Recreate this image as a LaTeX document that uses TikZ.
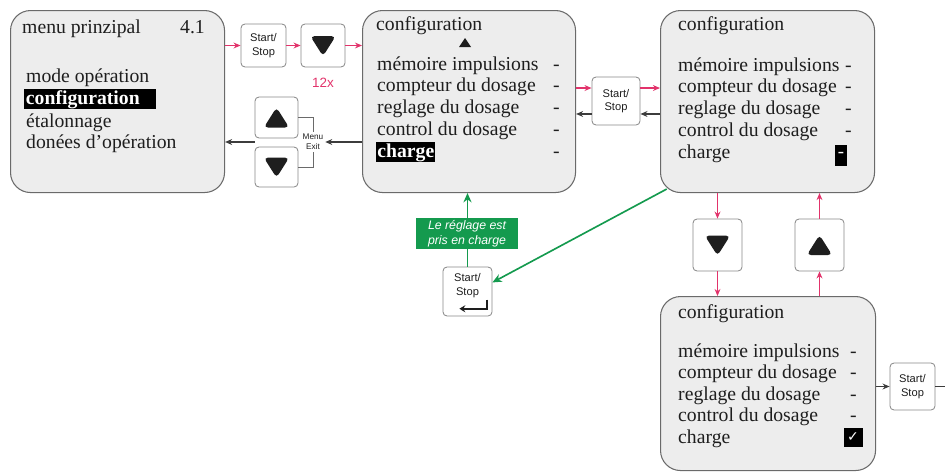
\documentclass[tikz,border=0pt]{standalone}
\usepackage{fontspec}
\setmainfont{Liberation Serif}
\setsansfont{Liberation Sans}
\newfontfamily\symbolfont{DejaVu Sans}
\usepackage{tikz}
\usetikzlibrary{arrows.meta, positioning}
\definecolor{ScreenGray}{HTML}{EDEDED}
\definecolor{FrameGray}{HTML}{6A6A6A}
\definecolor{KeyRed}{HTML}{E2336B}
\definecolor{OkGreen}{HTML}{149A4E}
\definecolor{BackDark}{HTML}{3C3C3C}
\definecolor{InkBlack}{HTML}{1E1E1E}

\tikzset{
  screen/.style={draw=FrameGray, fill=ScreenGray, line width=0.9pt, rounded corners=0.6cm, anchor=north west, inner sep=0pt},
  keytext/.style={inner sep=0pt, align=center, text=InkBlack, font=\sffamily\fontsize{9.5}{11.5}\selectfont},
  key/.style={keytext, draw=FrameGray!80, fill=white, line width=0.7pt, rounded corners=0.12cm},
  downkey/.style={key, path picture={\fill[InkBlack] ([xshift=-0.38cm,yshift=0.28cm]path picture bounding box.center) -- ++(0.76cm,0cm) -- ++(-0.38cm,-0.6cm) -- cycle;}},
  upkey/.style={key, path picture={\fill[InkBlack] ([xshift=-0.38cm,yshift=-0.3cm]path picture bounding box.center) -- ++(0.76cm,0cm) -- ++(-0.38cm,0.6cm) -- cycle;}},
  row/.style={anchor=base west, inner sep=0pt, text=InkBlack, font=\fontsize{16.8}{20}\selectfont},
  hilite/.style={row, fill=black, text=white, inner xsep=1.5pt, inner ysep=0.8pt, font=\bfseries\fontsize{16.8}{20}\selectfont},
  fwdline/.style={KeyRed, line width=1pt, -{Stealth[length=6pt, width=5pt]}},
  backline/.style={BackDark, line width=1pt, -{Stealth[length=6pt, width=5pt]}},
  okline/.style={OkGreen, line width=1.4pt, -{Stealth[length=8pt, width=7pt]}},
}

\begin{document}
\begin{tikzpicture}[x=0.03cm, y=-0.03cm]
  \useasboundingbox (0,0) rectangle (945,473);
  \coordinate (edge) at (945,0);

  % screens
  \node[screen, minimum width=6.42cm, minimum height=5.46cm] (box1) at (10,10) {};
  \node[screen, minimum width=6.39cm, minimum height=5.46cm] (box2) at (362,10) {};
  \node[screen, minimum width=6.42cm, minimum height=5.46cm] (box3) at (660,10) {};
  \node[screen, minimum width=6.45cm, minimum height=5.22cm] (box4) at (660,296) {};

  % keys
  \node[key, minimum width=1.35cm, minimum height=1.29cm] (start1) at (263.5,45.5) {Start/\\Stop};
  \node[downkey, minimum width=1.32cm, minimum height=1.29cm] (down1) at (323,45.5) {};
  \node[upkey, minimum width=1.29cm, minimum height=1.23cm] (menuup) at (276.5,117.5) {};
  \node[downkey, minimum width=1.29cm, minimum height=1.2cm] (menudown) at (276.5,167) {};
  \node[key, minimum width=1.44cm, minimum height=1.44cm] (start2) at (616,101) {Start/\\Stop};
  \node[downkey, minimum width=1.47cm, minimum height=1.56cm] (down3) at (717.5,245) {};
  \node[upkey, minimum width=1.47cm, minimum height=1.56cm] (up3) at (819.5,245) {};
  \node[key, minimum width=1.47cm, minimum height=1.47cm] (enter) at (467.5,291.5) {};
  \node[keytext, below=0.2cm of enter.north] {Start/\\Stop};
  \draw[InkBlack, line width=1.8pt, -{Stealth[length=5pt, width=6pt]}]
    ([xshift=-0.15cm,yshift=0.5cm]enter.south east) -- ++(0,9) -- ++(-28,0);
  \node[key, minimum width=1.35cm, minimum height=1.41cm] (start4) at (912.5,386.5) {Start/\\Stop};

  % into the configuration menu
  \draw[fwdline] (box1.east |- start1) -- (start1);
  \draw[fwdline] (start1) -- (down1);
  \draw[fwdline] (down1) -- (down1 -| box2.west);
  \node[text=KeyRed, inner sep=0pt, font=\sffamily\fontsize{11.5}{13}\selectfont, below=0.3cm of down1] (count) {12x};

  % menu / exit
  \node[keytext, inner sep=1.5pt, font=\sffamily\fontsize{7}{8.5}\selectfont] (menuexit) at (313,142) {Menu\\Exit};
  \draw[FrameGray, line width=0.7pt] (menuup) -| (menuexit.north);
  \draw[FrameGray, line width=0.7pt] (menudown) -| (menuexit.south);
  \draw[backline] (box2.west |- menuexit) -- (menuexit);
  \draw[backline] (menuup.west |- menuexit) -- (box1.east |- menuexit);

  % start/stop between screen 2 and 3
  \draw[fwdline] (box2.east |- start2.152) -- (start2.152);
  \draw[fwdline] (start2.28) -- (box3.west |- start2.28);
  \draw[backline] (box3.west |- start2.332) -- (start2.332);
  \draw[backline] (start2.208) -- (box2.east |- start2.208);

  % down/up between screen 3 and 4
  \draw[fwdline] (box3.south -| down3) -- (down3);
  \draw[fwdline] (down3) -- (down3 |- box4.north);
  \draw[fwdline] (box4.north -| up3) -- (up3);
  \draw[fwdline] (up3) -- (up3 |- box3.south);

  % confirm
  \draw[okline] ([xshift=0.2cm,yshift=0.12cm]box3.south west) -- (enter.20);
  \draw[okline] (enter) -- (enter |- box2.south);
  \node[fill=OkGreen, text=white, align=center, inner sep=0pt, minimum width=3.06cm, minimum height=0.93cm,
    font=\sffamily\itshape\fontsize{10.5}{12.5}\selectfont] (note) at (467,233.5) {Le réglage est\\pris en charge};

  \draw[backline] (box4.east |- start4) -- (start4);
  \draw[BackDark, line width=1pt] (start4) -- (start4 -| edge);

  % main menu
  \node[row] at (22,33) {menu prinzipal};
  \node[row] at (180,33) {4.1};
  \node[row] at (26,82) {mode opération};
  \node[hilite, text width=3.85cm, align=left] at (24,104) {configuration};
  \node[row] at (26,127) {étalonnage};
  \node[row] at (26,148) {donées d'opération};

  % configuration, cursor on charge
  \node[row] at (376,30) {configuration};
  \fill[InkBlack] (459,47) -- (471,47) -- (465,38) -- cycle;
  \foreach \txt [count=\i from 0] in {mémoire impulsions, compteur du dosage, reglage du dosage, control du dosage}{
    \node[row] at (377,70+21.8*\i) {\txt};
    \node[row] at (553,70+21.8*\i) {-};
  }
  \node[hilite, inner xsep=1pt] at (376,157) {charge};
  \node[row] at (553,157) {-};

  % configuration, charge selected
  \node[row] at (678,30) {configuration};
  \foreach \txt [count=\i from 0] in {mémoire impulsions, compteur du dosage, reglage du dosage, control du dosage}{
    \node[row] at (678,71+21.8*\i) {\txt};
    \node[row] at (845,71+21.8*\i) {-};
  }
  \node[row] at (678,158) {charge};
  \node[fill=black, text=white, minimum width=0.38cm, minimum height=0.63cm, inner sep=0pt,
    font=\fontsize{16}{16}\selectfont] at (841,155) {-};

  % configuration, charge ticked
  \node[row] at (678,318) {configuration};
  \foreach \txt [count=\i from 0] in {mémoire impulsions, compteur du dosage, reglage du dosage, control du dosage}{
    \node[row] at (678,357+21.5*\i) {\txt};
    \node[row] at (850,357+21.5*\i) {-};
  }
  \node[row] at (678,443) {charge};
  \node[fill=black, text=white, minimum size=0.57cm, inner sep=0pt,
    font=\symbolfont\bfseries\fontsize{12}{12}\selectfont] at (853,437) {✓};
\end{tikzpicture}
\end{document}
